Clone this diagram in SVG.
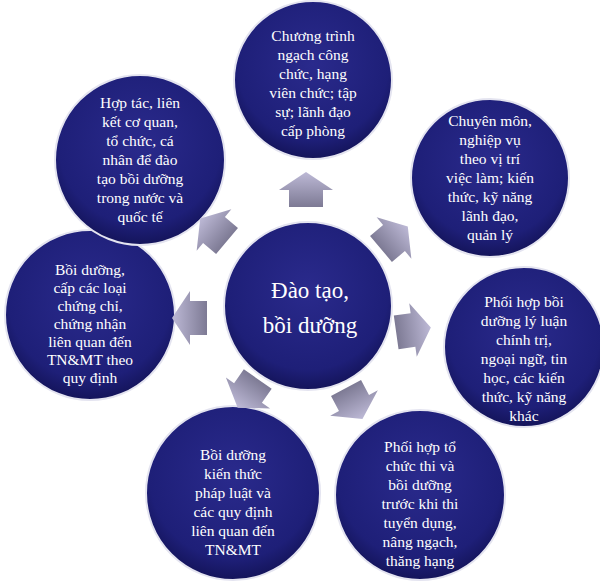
<svg xmlns="http://www.w3.org/2000/svg" width="600" height="581" viewBox="0 0 600 581">
<defs>
<radialGradient id="cg" cx="50%" cy="40%" r="60%">
<stop offset="0" stop-color="#2a2a8c"/><stop offset="0.8" stop-color="#1e1f78"/><stop offset="1" stop-color="#14145a"/>
</radialGradient>
<linearGradient id="ag" x1="0" y1="0" x2="0" y2="1">
<stop offset="0" stop-color="#bdb9d6"/><stop offset="1" stop-color="#7d7a94"/>
</linearGradient>
<path id="arr" d="M0,-18 L27,0 L17,0 L17,17 L-17,17 L-17,0 L-27,0 Z" fill="url(#ag)"/>
</defs>
<style>
circle{fill:url(#cg);stroke:#e4e4f0;stroke-width:2}
text{font-family:"Liberation Serif",serif;fill:#fff;font-size:15.5px;text-anchor:middle}
.big{font-size:23px}
</style>
<rect width="600" height="581" fill="#fff"/>
<g id="center"><circle cx="308" cy="306" r="84"/>
<text class="big" x="310" y="298">Đào tạo,</text><text class="big" x="310" y="333">bồi dưỡng</text></g>
<g id="n1"><circle cx="313" cy="80" r="79"/>
<text x="313" y="41">Chương trình</text><text x="313" y="60">ngạch công</text><text x="313" y="79">chức, hạng</text><text x="313" y="98">viên chức; tập</text><text x="313" y="117">sự; lãnh đạo</text><text x="313" y="136">cấp phòng</text></g>
<g id="n2"><circle cx="490" cy="178" r="79"/>
<text x="490" y="126">Chuyên môn,</text><text x="490" y="145">nghiệp vụ</text><text x="490" y="164">theo vị trí</text><text x="490" y="183">việc làm; kiến</text><text x="490" y="202">thức, kỹ năng</text><text x="490" y="221">lãnh đạo,</text><text x="490" y="240">quản lý</text></g>
<g id="n3"><circle cx="524" cy="347" r="80"/>
<text x="524" y="307">Phối hợp bồi</text><text x="524" y="326">dưỡng lý luận</text><text x="524" y="345">chính trị,</text><text x="524" y="364">ngoại ngữ, tin</text><text x="524" y="383">học, các kiến</text><text x="524" y="402">thức, kỹ năng</text><text x="524" y="421">khác</text></g>
<g id="n4"><circle cx="420" cy="495" r="85"/>
<text x="420" y="452">Phối hợp tổ</text><text x="420" y="471">chức thi và</text><text x="420" y="490">bồi dưỡng</text><text x="420" y="509">trước khi thi</text><text x="420" y="528">tuyển dụng,</text><text x="420" y="547">nâng ngạch,</text><text x="420" y="566">thăng  hạng</text></g>
<g id="n5"><circle cx="233" cy="493" r="87"/>
<text x="233" y="460">Bồi dưỡng</text><text x="233" y="479">kiến thức</text><text x="233" y="498">pháp luật và</text><text x="233" y="517">các quy định</text><text x="233" y="536">liên quan đến</text><text x="233" y="555">TN&amp;MT</text></g>
<g id="n6"><circle cx="90" cy="315" r="85"/>
<text x="90" y="275">Bồi dưỡng,</text><text x="90" y="293">cấp các loại</text><text x="90" y="311">chứng chỉ,</text><text x="90" y="329">chứng nhận</text><text x="90" y="347">liên quan đến</text><text x="90" y="365">TN&amp;MT theo</text><text x="90" y="383">quy định</text></g>
<g id="n7"><circle cx="140" cy="160" r="85"/>
<text x="140" y="108">Hợp tác, liên</text><text x="140" y="127">kết cơ quan,</text><text x="140" y="146">tổ chức, cá</text><text x="140" y="165">nhân để đào</text><text x="140" y="184">tạo bồi dưỡng</text><text x="140" y="203">trong nước và</text><text x="140" y="222">quốc tế</text></g>
<g id="connectors">
<use href="#arr" transform="translate(306,190) rotate(0)"/>
<use href="#arr" transform="translate(394,238) rotate(50)"/>
<use href="#arr" transform="translate(413,330) rotate(82)"/>
<use href="#arr" transform="translate(354,403) rotate(152)"/>
<use href="#arr" transform="translate(248,393) rotate(215)"/>
<use href="#arr" transform="translate(190,318) rotate(-90)"/>
<use href="#arr" transform="translate(214,230) rotate(-50)"/>
</g>
</svg>
